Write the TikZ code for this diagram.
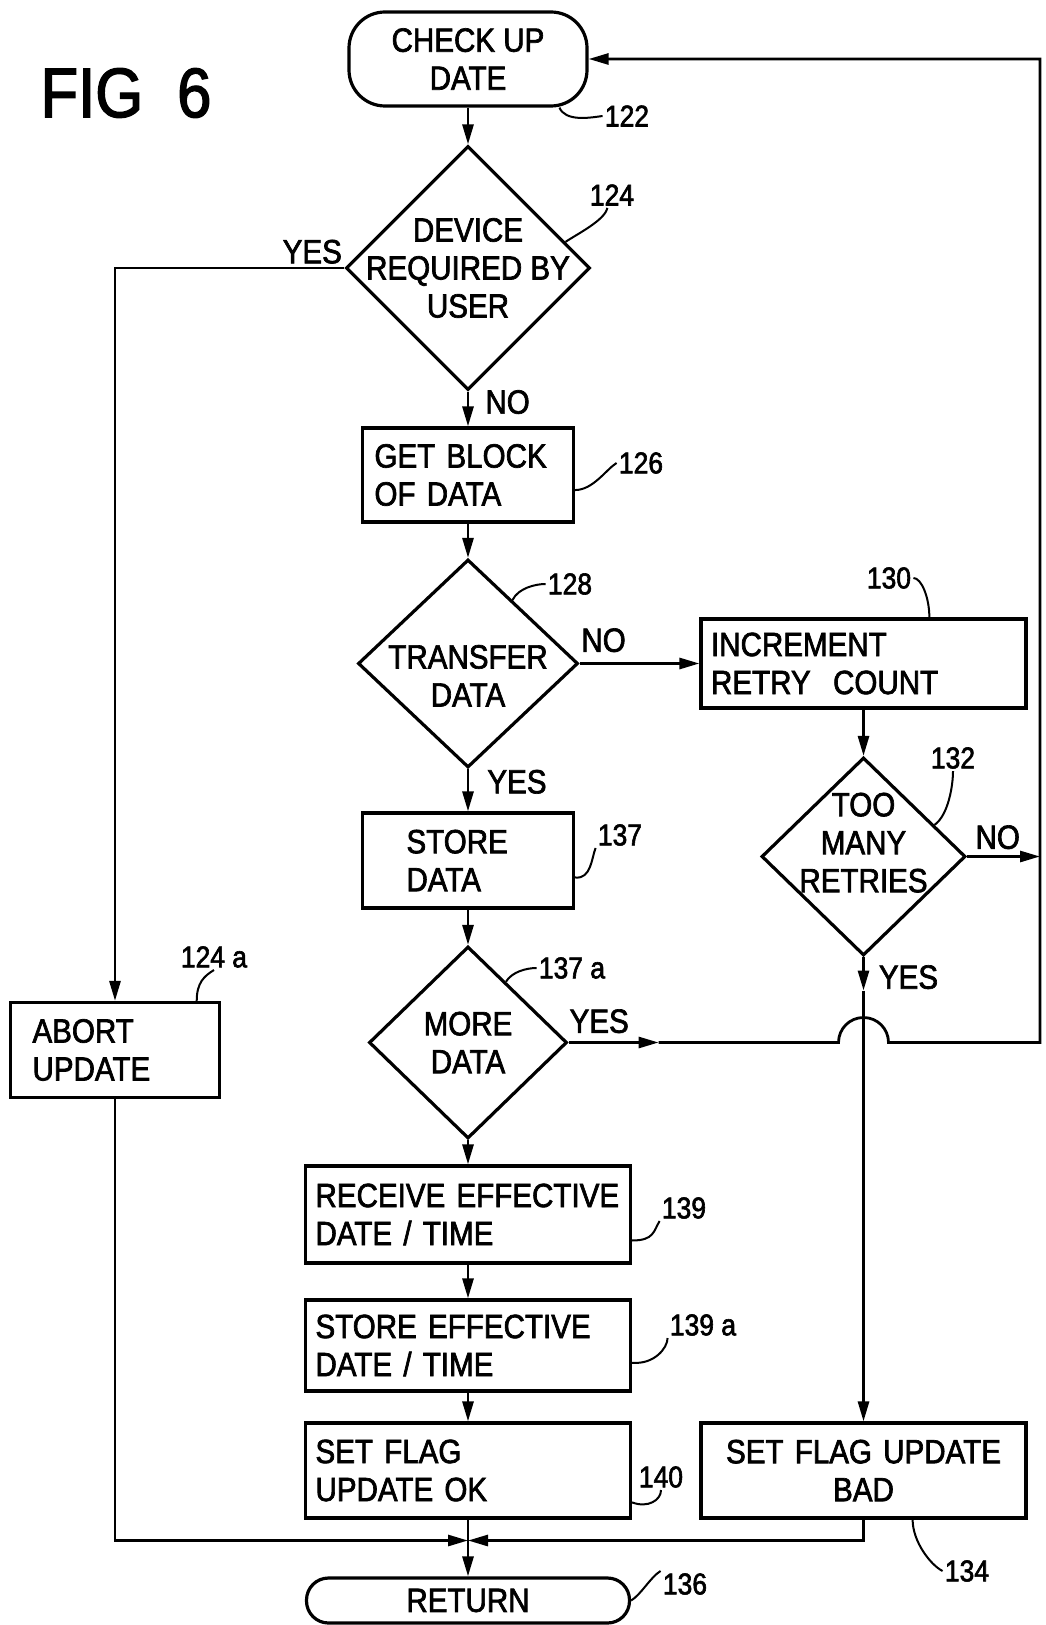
\documentclass[tikz,border=0pt]{standalone}
\usepackage{fontspec}
\setmainfont{Liberation Sans}[FakeStretch=0.88, FakeBold=2]
\usetikzlibrary{arrows.meta,positioning,calc,shapes.geometric}
\newcommand{\txtsize}{\fontsize{16.8}{19}\selectfont}
\newcommand{\numsize}{\fontsize{15}{15}\selectfont}
\hyphenpenalty=10000

\begin{document}
\begin{tikzpicture}[
    x=0.5pt, y=-0.5pt,
    font=\txtsize,
    terminal/.style={
      rectangle, rounded corners=18pt, draw, line width=1.6pt,
      minimum width=119pt, minimum height=47pt, align=center
    },
    proc/.style={
      rectangle, draw, line width=1.6pt, minimum height=47pt,
      inner xsep=6pt, text width=93.5pt, align=left
    },
    wideproc/.style={proc, inner xsep=5pt, text width=152.5pt},
    decision/.style={
      diamond, draw, line width=1.6pt, align=center,
      inner xsep=-80pt, inner ysep=-40pt
    },
    conn/.style={-{Triangle[length=10pt,width=5.5pt]}, line width=1.4pt},
    leader/.style={line width=1pt},
    refnum/.style={font=\numsize, inner sep=1pt},
    answer/.style={inner sep=1pt}
  ]
  \useasboundingbox (0,0) rectangle (1045,1625);

  \node[font=\fontsize{35}{35}\selectfont] (fig) at (126,93) {FIG\hspace{17pt}6};

  % --- main column ---
  \node[terminal] (check) at (468,59) {CHECK UP\\DATE};
  \node[decision, minimum width=122pt, minimum height=122pt, below=18.4pt of check]
    (device) {DEVICE\\REQUIRED BY\\USER};
  \node[proc, below=17.4pt of device] (getblock) {GET BLOCK\\OF DATA};
  \node[decision, minimum width=110pt, minimum height=104pt, below=17.15pt of getblock]
    (transfer) {\rule{0pt}{24pt}TRANSFER\\DATA};
  \node[proc, inner xsep=22pt, text width=61.5pt, minimum height=47.5pt, below=21.15pt of transfer]
    (storedata) {STORE\\DATA};
  \node[decision, minimum width=99pt, minimum height=96pt, below=17.65pt of storedata]
    (moredata) {MORE\\DATA};
  \node[wideproc, minimum height=48.5pt, below=12.15pt of moredata] (recv) {RECEIVE~EFFECTIVE\\DATE / TIME};
  \node[wideproc, minimum height=45.5pt, below=16.9pt of recv] (storeeff) {STORE~EFFECTIVE\\DATE / TIME};
  \node[wideproc, minimum height=47.5pt, below=14.4pt of storeeff] (flagok) {SET FLAG\\UPDATE OK};
  \node[terminal, rounded corners=11pt, minimum width=161.5pt, minimum height=22.5pt,
    inner ysep=3pt, below=28.4pt of flagok] (ret) {RETURN};

  % --- retry branch ---
  \node[wideproc, minimum height=44.5pt, right=59.9pt of transfer] (incr) {INCREMENT\\RETRY\ \ COUNT};
  \node[decision, minimum width=102pt, minimum height=99pt, below=23.15pt of incr]
    (retries) {TOO\\MANY\\RETRIES\rule[-14pt]{0pt}{1pt}};
  \node[wideproc, align=center, minimum height=47.5pt] (flagbad) at (retries |- flagok)
    {SET FLAG UPDATE\\BAD};

  % --- abort branch ---
  \node[proc, inner xsep=11pt, text width=82.5pt, minimum height=47.5pt] (abort) at (115,1050)
    {ABORT\\UPDATE};

  % --- reference numerals ---
  \node[refnum] (r122) at (627,116) {122};
  \node[refnum] (r124) at (612,195) {124};
  \node[refnum] (r126) at (641,463) {126};
  \node[refnum] (r128) at (570,584) {128};
  \node[refnum] (r130) at (889,578) {130};
  \node[refnum] (r132) at (953,758) {132};
  \node[refnum] (r137) at (620,835) {137};
  \node[refnum] (r137a) at (572,968) {137 a};
  \node[refnum] (r124a) at (214,957) {124 a};
  \node[refnum] (r139) at (684,1208) {139};
  \node[refnum] (r139a) at (703,1325) {139 a};
  \node[refnum] (r140) at (661,1477) {140};
  \node[refnum] (r134) at (967,1571) {134};
  \node[refnum] (r136) at (685,1584) {136};

  \draw[leader] (check.-28) .. controls +(6,14) and +(-14,2) .. (r122.west);
  \draw[leader] (device.15) .. controls +(12,-8) and +(-2,12) .. (r124.250);
  \draw[leader] (getblock.-8) .. controls +(18,0) and +(-10,6) .. (r126.west);
  \draw[leader] (transfer.55) .. controls +(6,-12) and +(-10,0) .. (r128.west);
  \draw[leader] (incr.35) .. controls +(0,-20) and +(8,0) .. (r130.east);
  \draw[leader] (retries.24) .. controls +(14,-10) and +(0,14) .. (r132.south);
  \draw[leader] (storedata.-9) .. controls +(16,2) and +(-4,10) .. (r137.south west);
  \draw[leader] (moredata.58) .. controls +(6,-10) and +(-10,0) .. (r137a.west);
  \draw[leader] (abort.31) .. controls +(0,-18) and +(-10,6) .. (r124a.south);
  \draw[leader] (recv.-9) .. controls +(22,0) and +(-6,10) .. (r139.south west);
  \draw[leader] (storeeff.-6) .. controls +(22,2) and +(0,10) .. (r139a.south west);
  \draw[leader] (flagok.-11) .. controls +(16,6) and +(0,10) .. (r140.south);
  \draw[leader] (flagbad.-45) .. controls +(0,22) and +(-12,-6) .. (r134.west);
  \draw[leader] (ret.east) .. controls +(10,-6) and +(-10,6) .. (r136.north west);

  % --- connectors ---
  \coordinate[below=10.45pt of flagok] (jn);
  \coordinate[right=45pt of moredata.east] (yesA);
  \coordinate (hopL) at ($(retries |- moredata)+(-25,0)$);
  \coordinate (loopR) at (moredata -| 1040,0);
  \coordinate[below=16.7pt of retries.south] (yesB);

  \draw[conn] (check) -- (device);
  \draw[conn] (device) -- (getblock) node[answer, pos=0.3, right=7pt] (no124) {NO};
  \draw[conn] (device.west) -| (abort.north) node[answer, pos=0.07, above=0.5pt] (yes124) {YES};
  \draw[conn] (getblock) -- (transfer);
  \draw[conn] (transfer.east) -- (incr.west) node[answer, pos=0.2, above=4pt] (no128) {NO};
  \draw[conn] (transfer) -- (storedata) node[answer, pos=0.3, right=8pt] (yes128) {YES};
  \draw[conn] (incr) -- (retries);
  \draw[conn] (retries.east) -- (retries.east -| loopR) node[answer, pos=0.42, above=2pt] (no132) {NO};
  \draw[conn] (retries.south) -- (yesB) node[answer, pos=0.6, right=6pt] (yes132) {YES};
  \draw[conn] (yesB) -- (flagbad.north);
  \draw[conn] (storedata) -- (moredata);
  \draw[conn] (moredata.east) -- (yesA) node[answer, pos=0.34, above=3pt] (yes137a) {YES};
  \draw[conn] (yesA) -- (hopL) arc[start angle=180, end angle=0, radius=12.5pt]
    -- (loopR) |- (check.east);
  \draw[conn] (moredata) -- (recv);
  \draw[conn] (recv) -- (storeeff);
  \draw[conn] (storeeff) -- (flagok);
  \draw[conn] (flagok) -- (ret);
  \draw[conn] (abort.south) |- (jn);
  \draw[conn] (flagbad.south) |- (jn);
\end{tikzpicture}
\end{document}
